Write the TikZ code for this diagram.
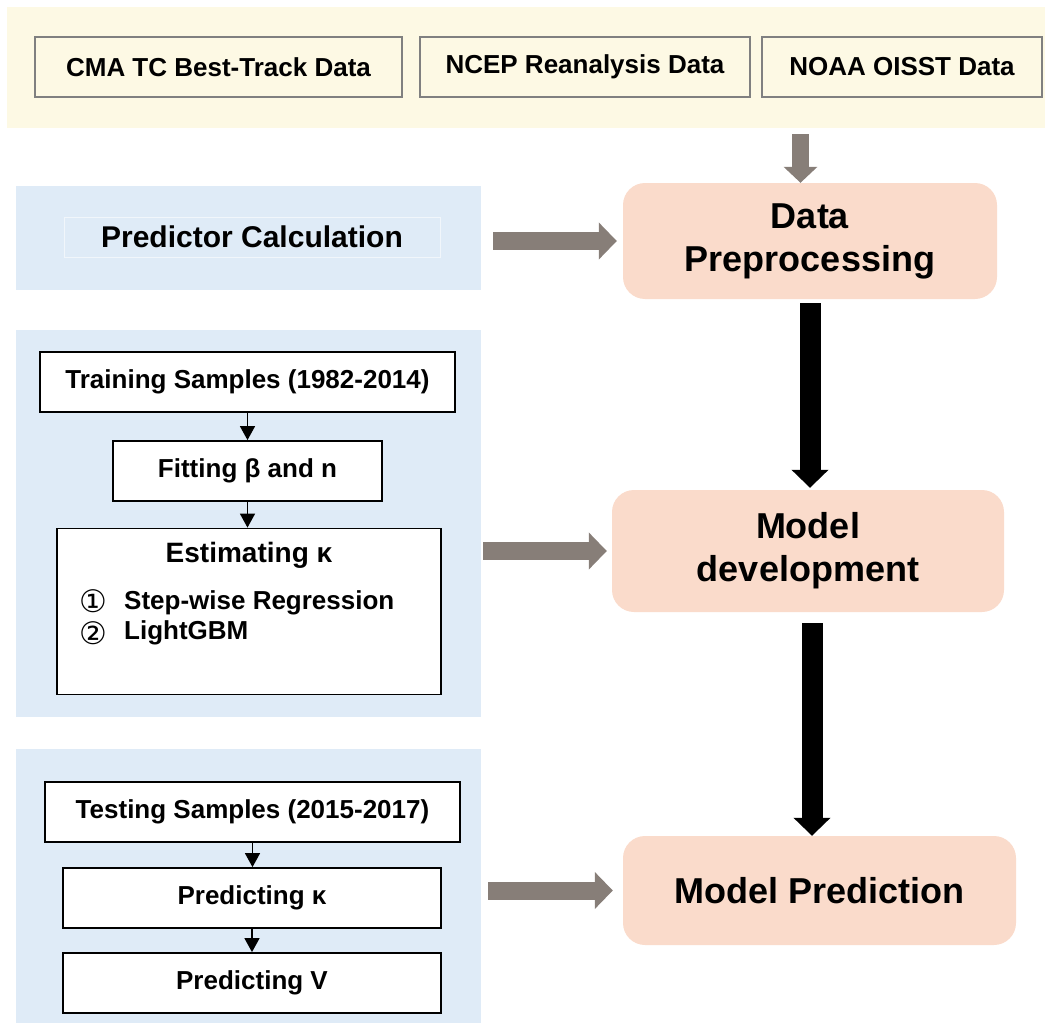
\documentclass[tikz,border=0pt]{standalone}
\usepackage{fontspec}
\setmainfont{Liberation Sans}
\newfontfamily\circfont{DejaVu Sans}
\usetikzlibrary{arrows.meta}

\definecolor{srcyellow}{RGB}{253,249,228}
\definecolor{panelblue}{RGB}{223,235,247}
\definecolor{boxpeach}{RGB}{250,219,203}
\definecolor{arrowgray}{RGB}{135,126,120}
\definecolor{srcedge}{RGB}{128,128,128}

\tikzset{
  panel/.style={fill=panelblue,inner sep=0pt},
  srcbox/.style={draw=srcedge,line width=1.5pt,fill=srcyellow,minimum height=60pt,
    inner sep=0pt,font=\bfseries\fontsize{26}{31}\selectfont},
  stepbox/.style={draw=black,line width=1.8pt,fill=white,minimum height=60pt,
    inner sep=0pt,font=\bfseries\fontsize{26}{31}\selectfont},
  mainbox/.style={fill=boxpeach,rounded corners=22pt,inner sep=0pt,align=center,
    font=\bfseries\fontsize{36}{43}\selectfont},
  itemtext/.style={anchor=west,inner sep=0pt,font=\bfseries\fontsize{26}{31}\selectfont},
  circnum/.style={inner sep=0pt,font=\circfont\fontsize{31}{31}\selectfont},
  smallarrow/.style={line width=1.5pt,-{Triangle[length=14pt,width=15pt]}},
  grayarrow/.style={draw=arrowgray,line width=18pt,-{Triangle[length=18pt,width=36pt]}},
  blackarrow/.style={draw=black,line width=21pt,-{Triangle[length=18pt,width=36pt]}}
}

\begin{document}
\begin{tikzpicture}[x=1pt,y=-1pt]
  \useasboundingbox (0,0) rectangle (1050,1025);

  % background panels
  \node[fill=srcyellow,inner sep=0pt,minimum width=1038pt,minimum height=121pt] (srcband) at (526,67.5) {};
  \node[panel,minimum width=465pt,minimum height=104pt] (calcpanel) at (248.5,238) {};
  \node[panel,minimum width=465pt,minimum height=387pt] (trainpanel) at (248.5,523.5) {};
  \node[panel,minimum width=465pt,minimum height=274pt] (testpanel) at (248.5,886) {};

  % data sources
  \node[srcbox,minimum width=367pt] (cma) at (218.5,67) {CMA TC Best-Track Data};
  \node[srcbox,minimum width=330pt] (ncep) at (585,67) {NCEP Reanalysis Data};
  \node[srcbox,minimum width=280pt] (noaa) at (902,67) {NOAA OISST Data};

  \node[draw=white!55!panelblue,line width=1pt,inner sep=0pt,minimum width=376pt,minimum height=40pt,
    font=\bfseries\fontsize{30}{36}\selectfont] (calc) at (252,237) {Predictor Calculation};

  % training steps
  \node[stepbox,minimum width=415pt] (train) at (247.5,382) {Training Samples (1982-2014)};
  \node[stepbox,minimum width=269pt] (fitting) at (247.5,471) {Fitting β and n};
  \node[stepbox,minimum width=384pt,minimum height=166pt] (est) at (249,611.5) {};
  \node[inner sep=0pt,font=\bfseries\fontsize{28}{34}\selectfont] (esttitle) at (249,555) {Estimating κ};
  \node[circnum] (num1) at (93,601) {①};
  \node[circnum] (num2) at (93,633) {②};
  \node[itemtext] (reg) at (124,603) {Step-wise Regression};
  \node[itemtext] (lgbm) at (124,633) {LightGBM};

  % testing steps
  \node[stepbox,minimum width=415pt] (test) at (252.5,812) {Testing Samples (2015-2017)};
  \node[stepbox,minimum width=378pt] (predk) at (252,898) {Predicting κ};
  \node[stepbox,minimum width=378pt] (predv) at (252,983) {Predicting V};

  % main flow
  \node[mainbox,minimum width=374pt,minimum height=116pt] (dp) at (810,241) {Data\\Preprocessing};
  \node[mainbox,minimum width=392pt,minimum height=122pt] (md) at (808,551) {Model\\development};
  \node[mainbox,minimum width=393pt,minimum height=109pt] (mp) at (819.5,890.5) {Model Prediction};

  \coordinate (srcout) at (800.5,134);
  \draw[grayarrow,line width=17pt,-{Triangle[length=16pt,width=33pt]}] (srcout) -- (srcout |- dp.north);
  \draw[grayarrow,shorten <=12pt,shorten >=6pt] (calcpanel.east |- dp.west) -- (dp.west);
  \draw[grayarrow,shorten <=2pt,shorten >=5pt] (trainpanel.east |- md.west) -- (md.west);
  \draw[grayarrow,shorten <=7pt,shorten >=10pt] (testpanel.east |- mp.west) -- (mp.west);

  \draw[blackarrow,shorten <=4pt,shorten >=2pt] (dp.south) -- (dp.south |- md.north);
  \draw[blackarrow,shorten <=11pt] ([xshift=4pt]md.south) -- ([xshift=4pt]md.south |- mp.north);

\foreach \from/\to in {train/fitting, fitting/est, test/predk, predk/predv}
    \draw[smallarrow] (\from.south) -- (\from.south |- \to.north);

\end{tikzpicture}
\end{document}
